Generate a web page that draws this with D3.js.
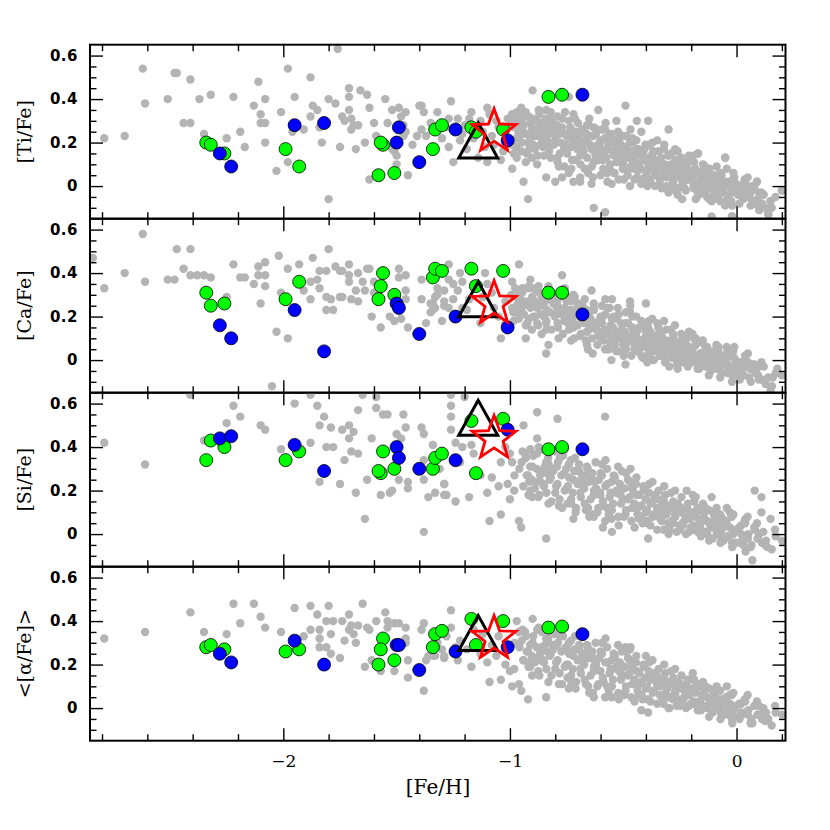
<!DOCTYPE html>
<html><head><meta charset="utf-8">
<script src="https://cdn.jsdelivr.net/npm/d3@7"></script>
<style>body{margin:0;background:#fff}</style>
</head><body><svg id="c" width="830" height="830"></svg>
<script>
const panelLabels = ["[Ti/Fe]","[Ca/Fe]","[Si/Fe]","<[α/Fe]>"];
const xTickValues = [-2,-1,0];
const xMinorTicks = [-2.8,-2.6,-2.4,-2.2,-1.8,-1.6,-1.4,-1.2,-0.8,-0.6,-0.4,-0.2,0.2];
const yTickValues = [0,0.2,0.4,0.6];
const yTickLabels = ["0","0.2","0.4","0.6"];
const yMinorTicks = [-0.1,-0.05,0.05,0.1,0.15,0.25,0.3,0.35,0.45,0.5,0.55];

const greenFeH   = [-2.34,-2.32,-2.26,-1.99,-1.93,-1.56,-1.57,-1.58,-1.51,-1.34,-1.33,-1.30,-1.17,-1.15,-1.03,-0.83,-0.77];
const greenTi    = [0.20,0.19,0.15,0.17,0.09,0.19,0.20,0.05,0.06,0.17,0.26,0.28,0.27,0.25,0.26,0.41,0.42];
const greenCa    = [0.31,0.25,0.26,0.28,0.36,0.40,0.34,0.28,0.30,0.38,0.42,0.41,0.42,0.34,0.41,0.31,0.31];
const greenSi    = [0.34,0.43,0.40,0.34,0.38,0.38,0.28,0.29,0.30,0.30,0.35,0.37,0.52,0.28,0.53,0.39,0.40];
const greenAlpha = [0.28,0.29,0.27,0.26,0.27,0.32,0.27,0.20,0.22,0.28,0.34,0.355,0.41,0.29,0.40,0.37,0.375];

const blueFeH   = [-2.28,-2.23,-1.95,-1.82,-1.50,-1.49,-1.40,-1.24,-1.01,-0.68];
const blueTi    = [0.15,0.09,0.28,0.29,0.20,0.27,0.11,0.26,0.21,0.42];
const blueCa    = [0.16,0.10,0.23,0.04,0.26,0.24,0.12,0.20,0.15,0.21];
const blueSi    = [0.44,0.45,0.41,0.29,0.40,0.35,0.30,0.34,0.48,0.39];
const blueAlpha = [0.25,0.21,0.31,0.20,0.29,0.29,0.175,0.26,0.28,0.34];

const triangleFeH = -1.14;
const triangleY = [0.21,0.28,0.535,0.345];
const starFeH = -1.07;
const starY = [0.25,0.26,0.44,0.32];

// field stars (gray), flat [FeH, X/Fe, FeH, X/Fe, ...]
const grayTi = [
-2.79,.22,-2.70,.23,-2.62,.54,-2.61,.38,-2.51,.40,-2.48,.52,-2.47,.52,-2.44,.29,-2.41,.29,-2.41,.49,-2.37,.40,-2.32,.42,-2.35,.24,-2.25,.22,-2.22,.41,-2.19,.25,-2.17,.18,-2.11,.48,-2.13,.37,-2.10,.33,-2.10,.29,-2.08,.29,-2.08,.40,-2.08,.20,-2.03,.07,-2.01,.34,-1.98,.54,-1.98,.11,-1.95,.41,-1.96,.25,-1.91,.26,-1.88,.50,-1.87,.37,-1.85,.35,-1.88,.32,-1.84,.27,-1.83,.20,-1.80,.40,-1.80,-.06,-1.77,.38,-1.75,.18,-1.76,.63,-1.74,.32,-1.73,.30,-1.71,.45,-1.71,.41,-1.71,.35,-1.70,.26,-1.70,.31,-1.69,.28,-1.68,.17,-1.67,.28,-1.66,.44,-1.63,.42,-1.64,.20,-1.62,.36,-1.62,.03,-1.60,.29,-1.59,.23,-1.55,.40,-1.54,.29,-1.52,.35,-1.51,.16,-1.50,.10,-1.49,.36,-1.48,.32,-1.47,.23,-1.45,.05,-1.43,.19,-1.40,.37,-1.41,.23,-1.52,.17,-1.50,.14,-1.47,.28,-1.46,.25,
-1.46,.34,-1.39,.37,-1.38,.34,-1.39,.26,-1.37,.23,-1.32,.34,-1.26,.39,-1.27,.31,-1.23,.31,-1.25,.11,-1.27,.18,-1.21,.24,-1.17,.34,-1.19,.17,-1.10,.36,-1.10,.11,-1.04,.12,-1.11,.18,-1.06,.30,-0.99,.08,-0.99,.20,-0.97,.34,-0.94,.02,-0.92,-.06,-0.90,.44,-0.82,.34,-0.84,.04,-0.80,.02,-0.77,.04,-0.74,.41,-0.72,.02,-0.69,.02,-0.63,-.10,-0.58,-.12,-0.64,.01,-0.61,.35,-0.49,.37,-0.44,.30,-0.39,.30,-0.30,.26,-0.17,.15,-0.05,.13,-0.12,.08,-0.11,-.14,-0.02,-.14,0.09,.02,0.04,.01,0.15,-.07,0.14,-.13,0.10,-.11,0.20,-.02,-0.02,-.02,0.06,-.03,0.11,-.03,
-1.35,.29,-1.30,.22,-1.28,.27,-1.22,.21,-1.20,.28,-1.16,.22,-1.13,.30,-1.12,.25,-1.08,.23,-1.05,.27,-1.03,.16,-1.14,.13,-1.18,.31,-1.09,.33,-1.01,.31,-1.07,.19,
-0.99,.33,-0.98,.27,-0.97,.22,-0.96,.30,-0.95,.16,-0.94,.25,-0.93,.34,-0.92,.20,-0.91,.29,-0.97,.13,-0.95,.36,-0.93,.11,-0.91,.24,-0.99,.19,-0.96,.27,
-0.90,.31,-0.89,.17,-0.88,.26,-0.87,.33,-0.86,.22,-0.85,.14,-0.84,.28,-0.83,.19,-0.82,.31,-0.81,.24,-0.88,.10,-0.86,.29,-0.84,.35,-0.82,.13,-0.80,.27,-0.89,.23,-0.85,.20,
-0.80,.21,-0.79,.32,-0.78,.15,-0.77,.27,-0.76,.09,-0.75,.23,-0.74,.30,-0.73,.18,-0.72,.25,-0.71,.12,-0.70,.29,-0.78,.24,-0.76,.19,-0.74,.06,-0.72,.33,-0.79,.11,-0.73,.22,
-0.70,.20,-0.69,.14,-0.68,.26,-0.67,.08,-0.66,.22,-0.65,.31,-0.64,.17,-0.63,.11,-0.62,.24,-0.61,.19,-0.60,.05,-0.68,.18,-0.66,.28,-0.64,.23,-0.62,.13,-0.69,.04,-0.63,.27,-0.61,.15,
-0.60,.21,-0.59,.12,-0.58,.26,-0.57,.17,-0.56,.08,-0.55,.22,-0.54,.14,-0.53,.30,-0.52,.03,-0.51,.19,-0.50,.10,-0.58,.16,-0.56,.24,-0.54,.06,-0.52,.16,-0.50,.23,-0.57,.02,-0.53,.11,
-0.49,.15,-0.48,.07,-0.47,.20,-0.46,.12,-0.45,.03,-0.44,.17,-0.43,.09,-0.42,.25,-0.41,.13,-0.40,.05,-0.48,.13,-0.46,.22,-0.44,.10,-0.42,.01,-0.40,.18,-0.47,.00,-0.43,.15,-0.45,.08,
-0.39,.10,-0.38,.02,-0.37,.15,-0.36,.07,-0.35,.21,-0.34,.12,-0.33,-.01,-0.32,.09,-0.31,.04,-0.30,.14,-0.38,.12,-0.36,.00,-0.34,.05,-0.32,.17,-0.30,-.03,-0.37,.07,-0.33,.10,
-0.29,.08,-0.28,.01,-0.27,.12,-0.26,-.04,-0.25,.05,-0.24,.10,-0.23,-.01,-0.22,.03,-0.21,.14,-0.20,.07,-0.28,.05,-0.26,.16,-0.24,-.06,-0.22,.09,-0.27,-.02,-0.23,.04,
-0.19,.00,-0.18,.06,-0.17,.15,-0.16,-.03,-0.15,.03,-0.14,.09,-0.13,-.05,-0.12,.01,-0.11,.05,-0.10,-.02,-0.18,-.06,-0.15,.07,-0.13,.02,-0.11,-.07,
-0.09,.03,-0.08,-.04,-0.07,.06,-0.06,-.01,-0.05,.13,-0.04,-.06,-0.03,.02,-0.02,-.03,-0.01,.04,-0.08,.00,-0.05,-.09,-0.02,-.14,
0.01,-.02,0.03,.01,0.04,-.05,0.06,-.03,0.09,.02,0.10,-.11,0.11,-.03,0.14,-.13,0.15,-.07,0.20,-.02,0.12,-.04,0.07,-.07
];
const grayTiCore = [
-0.996,.29,-0.988,.21,-0.979,.31,-0.971,.18,-0.963,.26,-0.957,.23,-0.952,.33,-0.947,.20,-0.941,.28,-0.933,.24,-0.926,.15,-0.918,.32,-0.911,.22,-0.904,.27,
-0.898,.19,-0.893,.25,-0.884,.30,-0.877,.14,-0.869,.23,-0.861,.28,-0.854,.18,-0.848,.26,-0.842,.31,-0.835,.21,-0.827,.16,-0.819,.25,-0.812,.29,-0.806,.19,
-0.797,.23,-0.791,.13,-0.783,.27,-0.776,.20,-0.768,.31,-0.761,.17,-0.753,.24,-0.748,.15,-0.741,.22,-0.734,.27,-0.726,.12,-0.719,.20,-0.711,.25,-0.703,.17,
-0.697,.22,-0.689,.10,-0.682,.26,-0.675,.16,-0.667,.21,-0.659,.13,-0.652,.28,-0.646,.19,-0.639,.09,-0.632,.23,-0.624,.15,-0.617,.26,-0.609,.12,-0.603,.20,
-0.596,.17,-0.588,.08,-0.581,.22,-0.574,.13,-0.566,.19,-0.558,.10,-0.552,.24,-0.547,.16,-0.539,.06,-0.531,.19,-0.524,.11,-0.517,.22,-0.509,.14,-0.502,.08,
-0.496,.13,-0.488,.18,-0.481,.05,-0.473,.15,-0.466,.09,-0.458,.20,-0.451,.11,-0.446,.14,-0.439,.04,-0.431,.17,-0.423,.08,-0.416,.12,-0.408,.02,-0.402,.19,
-0.397,.07,-0.389,.13,-0.382,.03,-0.374,.10,-0.367,.16,-0.359,.05,-0.352,.11,-0.347,.09,-0.339,.01,-0.332,.13,-0.324,.06,-0.316,.10,-0.309,.00,-0.301,.14,
-0.296,.05,-0.288,.10,-0.281,.02,-0.273,.07,-0.266,.12,-0.258,-.01,-0.251,.04,-0.247,.08,-0.239,.02,-0.232,.06,-0.224,-.02,-0.217,.11,-0.209,.03,-0.202,.07,
-0.197,.04,-0.189,-.01,-0.182,.08,-0.174,.02,-0.166,-.04,-0.159,.05,-0.151,.00,-0.146,.03,-0.138,-.03,-0.131,.06,-0.123,.00,-0.116,.04,-0.108,-.05,-0.101,.01,
-0.097,-.02,-0.089,.03,-0.082,-.06,-0.074,.01,-0.066,.05,-0.059,-.03,-0.051,.00,-0.046,.02,-0.038,-.04,-0.031,.00,-0.023,-.07,-0.016,.03,-0.008,-.02,-0.002,.01,
0.006,-.04,0.018,.00,0.029,-.06,0.041,-.02,0.057,-.05,0.068,.00,0.083,-.08,0.097,-.03
];
const grayTiFill = [
-0.962,.24,-0.915,.17,-0.873,.35,-0.836,.24,-0.792,.28,-0.744,.18,-0.713,.31,-0.686,.20,-0.655,.06,-0.627,.18,-0.593,.26,-0.571,.06,-0.542,.21,-0.512,.12,-0.487,.23,-0.462,.16,-0.436,.07,-0.411,.16,-0.386,.19,-0.362,.12,-0.338,.03,-0.313,.08,-0.289,.15,-0.262,.09,-0.236,.00,-0.212,.05,-0.187,.11,-0.162,.00,-0.137,.07,-0.113,-.01,-0.088,.09,-0.064,.02,-0.039,-.05,-0.014,.06,0.013,-.08,0.036,.03,0.062,-.09,0.093,-.06,0.127,-.10,0.172,-.05,
-0.983,.15,-0.944,.31,-0.902,.13,-0.866,.19,-0.829,.27,-0.784,.09,-0.757,.34,-0.729,.08,-0.694,.24,-0.661,.24,-0.634,.04,-0.602,.13,-0.578,.29,-0.551,.01,-0.523,.25,-0.497,.03,-0.468,.26,-0.442,.21,-0.419,.03,-0.393,.00,-0.371,.20,-0.344,.16,-0.319,.19,-0.296,-.02,-0.271,.17,-0.243,.13,-0.219,.08,-0.193,.14,-0.171,-.03,-0.148,.10,-0.121,-.06,-0.096,.05,-0.071,-.07,-0.043,.08,-0.019,-.09,0.021,-.04,0.049,.04,0.078,-.01,0.112,-.08,0.155,-.10
];

const grayCa = [
-2.84,.47,-2.79,.33,-2.70,.40,-2.62,.58,-2.61,.36,-2.51,.37,-2.48,.37,-2.47,.51,-2.41,.51,-2.44,.42,-2.41,.39,-2.38,.39,-2.35,.39,-2.32,.38,-2.25,.29,-2.22,.44,-2.19,.38,-2.17,.38,-2.13,.35,-2.11,.43,-2.11,.39,-2.08,.45,-2.08,.39,-2.08,.34,-2.10,.26,-2.02,.48,-2.01,.31,-2.03,.13,-1.98,.10,-2.05,-.12,-1.98,.42,-1.93,.44,-1.91,.32,-1.88,.36,-1.87,.47,-1.85,.37,-1.84,.33,-1.84,.41,-1.80,.51,-1.81,.41,-1.79,.28,-1.81,.29,-1.81,.23,-1.78,.23,-1.88,.28,-1.77,.43,-1.75,.41,-1.74,.41,-1.75,.29,-1.74,.29,-1.71,.44,-1.71,.39,-1.71,.36,-1.70,.28,-1.67,.27,-1.67,.40,-1.65,.36,-1.68,.32,-1.63,.42,-1.62,.42,-1.64,.32,-1.61,.20,-1.57,.15,-1.60,.36,-1.60,.31,-1.53,.20,-1.51,.18,-1.49,.42,-1.49,.38,-1.48,.19,-1.46,.39,-1.46,.32,-1.46,.28,-1.45,.15,-1.39,.28,-1.39,.37,-1.37,.17,-1.34,.23,-1.33,.29,-1.32,.33,-1.34,.26,-1.29,.25,
-1.27,.44,-1.22,.40,-1.27,.37,-1.25,.35,-1.23,.32,-1.21,.36,-1.29,.27,-1.27,.24,-1.32,.30,-1.33,.24,-1.35,.22,-1.21,.24,-1.18,.28,-1.11,.40,-1.10,.35,-1.08,.31,-1.07,.24,-1.13,.17,-1.04,.10,-1.02,.17,-0.99,.36,-0.96,.44,-0.97,.29,-0.99,.24,-0.95,.21,-0.93,.10,-0.91,.37,-0.90,.33,-0.91,.27,-0.88,.24,-0.88,.17,-0.86,.26,-0.85,.20,-0.84,.14,-0.83,.07,-0.84,.03,-0.81,.27,-0.79,.23,-0.79,.17,-0.77,.39,-0.75,.29,-0.74,.20,-0.72,.15,-0.70,.26,-0.69,.22,-0.69,.11,-0.66,.07,-0.65,.17,-0.64,.32,-0.63,.24,-0.62,.14,-0.60,.10,-0.59,.20,-0.58,.05,-0.56,.24,-0.55,.28,-0.55,.15,-0.54,.10,-0.53,.04,-0.51,.17,-0.50,.13,-0.49,.07,-0.49,-.02,-0.47,.22,-0.47,.27,-0.46,.15,-0.44,.10,-0.43,.04,-0.41,.17,-0.40,.13,-0.40,.26,-0.39,.07,-0.38,.00,-0.36,.11,-0.35,.17,-0.34,.07,-0.32,.04,-0.31,.14,-0.29,.09,-0.28,.02,-0.27,.07,-0.26,-.04,-0.24,.11,-0.23,.04,-0.21,.13,-0.21,.00,-0.18,.07,-0.18,.10,-0.16,.03,-0.14,-.02,-0.13,.06,-0.11,.02,-0.09,.05,-0.08,-.04,-0.06,.00,-0.04,.04,-0.02,-.07,-0.01,.06,0.01,-.02,0.04,.00,0.06,-.04,0.10,-.03,0.11,-.01,0.14,-.08,0.15,-.14,0.20,-.07,0.18,-.04,
-0.96,.30,-0.94,.25,-0.92,.33,-0.90,.28,-0.89,.20,-0.87,.31,-0.85,.26,-0.84,.17,-0.83,.34,-0.81,.29,-0.80,.21,-0.79,.25,-0.77,.32,-0.76,.18,-0.75,.27,-0.73,.23,-0.72,.30,-0.71,.16,-0.70,.25,-0.68,.19,-0.67,.28,-0.66,.13,-0.65,.22,-0.63,.26,-0.62,.17,-0.61,.11,-0.60,.20,-0.58,.14,-0.57,.24,-0.56,.08,-0.55,.19,-0.53,.13,-0.52,.21,-0.50,.07,-0.49,.17,-0.48,.11,-0.46,.20,-0.45,.05,-0.44,.13,-0.42,.18,-0.41,.08,-0.39,.15,-0.38,.03,-0.37,.10,-0.35,.06,-0.34,.13,-0.32,.02,-0.31,.09,-0.29,.05,-0.28,.12,-0.26,-.01,-0.25,.08,-0.23,.03,-0.22,.10,-0.20,.00,-0.19,.06,-0.17,.02,-0.15,.08,-0.14,-.02,-0.12,.04,-0.10,.00,-0.08,.06,-0.07,-.03,-0.05,.02,-0.03,-.04,-0.01,.01,0.02,-.06,0.05,-.01,0.08,-.05,0.12,-.03,0.16,-.08,-0.98,.22,-0.93,.16,-0.86,.12,-1.02,.27,-1.05,.20,-1.12,.29,-1.16,.35,-1.19,.23,-1.25,.28,-1.29,.32,-1.30,.18,-1.35,.26
];
const grayCaCore = [
-0.994,.30,-0.985,.22,-0.977,.33,-0.969,.25,-0.961,.19,-0.955,.28,-0.951,.23,-0.946,.31,-0.938,.21,-0.931,.27,-0.923,.17,-0.916,.34,-0.909,.24,-0.902,.29,
-0.897,.20,-0.890,.27,-0.882,.32,-0.875,.16,-0.867,.25,-0.859,.29,-0.853,.21,-0.846,.27,-0.839,.18,-0.831,.31,-0.824,.22,-0.817,.14,-0.809,.26,-0.802,.20,
-0.796,.25,-0.788,.15,-0.781,.29,-0.773,.21,-0.766,.12,-0.758,.24,-0.752,.18,-0.746,.23,-0.739,.14,-0.731,.27,-0.723,.19,-0.716,.10,-0.708,.22,-0.701,.16,
-0.695,.21,-0.687,.12,-0.680,.25,-0.672,.17,-0.665,.09,-0.657,.20,-0.651,.14,-0.644,.19,-0.637,.10,-0.629,.23,-0.622,.15,-0.614,.07,-0.607,.18,-0.601,.13,
-0.594,.17,-0.587,.09,-0.579,.21,-0.571,.12,-0.564,.05,-0.556,.16,-0.551,.11,-0.545,.15,-0.537,.07,-0.530,.19,-0.522,.10,-0.515,.04,-0.507,.14,-0.501,.09,
-0.494,.13,-0.487,.05,-0.479,.17,-0.472,.09,-0.464,.02,-0.457,.12,-0.451,.07,-0.444,.12,-0.437,.04,-0.429,.15,-0.421,.07,-0.414,.01,-0.406,.10,-0.401,.06,
-0.395,.10,-0.387,.03,-0.380,.13,-0.372,.06,-0.365,.00,-0.357,.09,-0.351,.04,-0.345,.08,-0.337,.02,-0.330,.11,-0.322,.05,-0.315,-.01,-0.307,.07,-0.301,.03,
-0.294,.07,-0.286,.01,-0.279,.10,-0.271,.04,-0.264,-.02,-0.256,.06,-0.251,.02,-0.245,.05,-0.238,.00,-0.230,.08,-0.223,.03,-0.215,-.03,-0.208,.05,-0.201,.01,
-0.195,.04,-0.187,-.01,-0.180,.07,-0.172,.02,-0.165,-.04,-0.157,.03,-0.151,.00,-0.144,.02,-0.136,-.03,-0.129,.05,-0.121,.00,-0.114,-.05,-0.106,.02,-0.101,-.01,
-0.095,.01,-0.087,-.04,-0.080,.04,-0.072,-.01,-0.065,-.06,-0.057,.01,-0.051,-.02,-0.044,-.01,-0.036,-.05,-0.029,.02,-0.021,-.03,-0.014,-.07,-0.006,.00,-0.001,-.03,
0.008,-.05,0.019,-.01,0.031,-.07,0.044,-.03,0.056,-.08,0.071,-.02,0.086,-.06,0.099,-.09
];
const grayCaFill = [
-0.963,.26,-0.917,.19,-0.874,.34,-0.837,.23,-0.793,.27,-0.745,.17,-0.714,.29,-0.687,.19,-0.656,.05,-0.628,.17,-0.594,.25,-0.572,.05,-0.543,.20,-0.513,.11,-0.488,.22,-0.463,.15,-0.437,.06,-0.412,.15,-0.387,.18,-0.363,.11,-0.339,.02,-0.314,.07,-0.290,.14,-0.263,.08,-0.237,-.01,-0.213,.04,-0.188,.10,-0.163,-.01,-0.138,.06,-0.114,-.02,-0.089,.07,-0.065,.01,-0.040,-.06,-0.015,.04,0.014,-.09,0.037,.02,0.063,-.10,0.094,-.07,0.128,-.11,0.173,-.06,
-0.984,.18,-0.945,.33,-0.903,.14,-0.867,.21,-0.830,.28,-0.785,.10,-0.758,.33,-0.730,.09,-0.695,.25,-0.662,.23,-0.635,.03,-0.603,.12,-0.579,.28,-0.552,.00,-0.524,.24,-0.498,.02,-0.469,.25,-0.443,.20,-0.420,.02,-0.394,-.01,-0.372,.19,-0.345,.15,-0.320,.18,-0.297,-.03,-0.272,.16,-0.244,.12,-0.220,.07,-0.194,.12,-0.172,-.04,-0.149,.09,-0.122,-.07,-0.097,.04,-0.072,-.08,-0.044,.06,-0.020,-.10,0.022,-.05,0.050,.03,0.079,-.02,0.113,-.09,0.156,-.12
];

const graySi = [
-2.79,.42,-2.61,.32,-2.41,.64,-2.35,.43,-2.25,.51,-2.22,.59,-2.19,.54,-2.10,.50,-2.08,.48,-2.01,.39,-1.95,.60,-1.88,.64,-1.88,.42,-1.85,.59,-1.84,.24,-1.84,.50,-1.82,.54,-1.81,.40,-1.79,.49,-1.78,.40,-1.75,.23,-1.74,.48,-1.73,.34,-1.71,.50,-1.71,.44,-1.70,.38,-1.69,.47,-1.68,.19,-1.67,.37,-1.67,.57,-1.65,.64,-1.64,.07,-1.63,.25,-1.61,.44,-1.59,.63,-1.59,.58,-1.57,.18,-1.56,.55,-1.54,.55,-1.53,.19,-1.52,.20,-1.50,.46,-1.49,.25,-1.48,.44,-1.47,.55,-1.46,.49,-1.45,.24,-1.45,.21,-1.39,.49,-1.38,.46,-1.38,.01,-1.38,.25,-1.36,.17,-1.34,.41,-1.33,.19,-1.29,.23,-1.29,.18,-1.38,.34,
-1.26,.64,-1.20,.63,-1.26,.59,-1.26,.54,-1.26,.48,-1.24,.42,-1.34,.41,-1.29,.23,-1.28,.18,-1.24,.15,-1.18,.17,-1.10,.19,-1.09,.06,-1.04,.09,-1.17,.41,-1.16,.37,-1.21,.40,-1.08,.26,-1.04,.33,-1.00,.37,-0.99,.33,-0.98,.27,-0.96,.06,-0.94,.50,-0.88,.56,-0.88,.44,-0.91,.39,-1.00,.16,-1.01,.23,-1.33,.34,-1.31,.30,-1.22,.33,-1.13,.27,-1.05,.22,-1.02,.40,
-0.58,.54,-0.79,.53,-0.84,-.02,-0.95,.03,-0.72,.07,-0.63,.08,-0.59,.03,-0.55,.01,-0.39,-.02,-0.22,.20,-0.18,.17,-0.11,.17,0.08,.20,0.11,.17,0.11,.10,0.15,.07,0.10,.00,0.20,-.03,0.04,-.08,0.07,-.12,-0.02,-.04,0.04,.07,-0.06,.07,
-0.93,.35,-0.92,.27,-0.91,.20,-0.90,.31,-0.89,.24,-0.88,.37,-0.87,.18,-0.86,.29,-0.85,.22,-0.84,.33,-0.83,.14,-0.82,.26,-0.81,.30,-0.80,.19,-0.79,.23,-0.78,.35,-0.77,.12,-0.76,.28,-0.75,.21,-0.74,.32,-0.73,.16,-0.72,.25,-0.71,.10,-0.70,.29,-0.69,.19,-0.68,.23,-0.67,.14,-0.66,.31,-0.65,.08,-0.64,.26,-0.63,.18,-0.62,.21,-0.61,.12,-0.60,.28,-0.59,.15,-0.58,.06,-0.57,.23,-0.56,.17,-0.55,.11,-0.54,.25,-0.53,.19,-0.52,.04,-0.51,.14,-0.50,.21,-0.49,.09,-0.48,.16,-0.47,.24,-0.46,.12,-0.45,.03,-0.44,.18,-0.43,.07,-0.42,.13,-0.41,.20,-0.40,.10,
-0.39,.05,-0.38,.14,-0.37,.08,-0.36,.18,-0.35,.02,-0.34,.11,-0.33,.06,-0.32,.15,-0.31,.09,-0.30,.00,-0.29,.12,-0.28,.05,-0.27,.08,-0.26,.14,-0.25,.02,-0.24,.10,-0.23,.06,-0.21,.01,-0.20,.09,-0.19,.04,-0.17,.11,-0.16,.03,-0.15,.07,-0.13,.00,-0.12,.05,-0.10,.09,-0.09,.02,-0.07,-.01,-0.05,.04,-0.03,.10,-0.01,.01,
0.02,.04,0.05,-.02,0.09,.05,0.13,-.03,0.17,.02,0.03,-.05
];
const graySiCore = [
-0.948,.33,-0.941,.22,-0.933,.37,-0.926,.27,-0.918,.18,-0.911,.31,-0.904,.25,-0.897,.36,-0.890,.21,-0.882,.30,-0.875,.17,-0.867,.27,-0.859,.39,-0.853,.23,
-0.846,.31,-0.839,.19,-0.831,.35,-0.824,.25,-0.817,.15,-0.809,.29,-0.802,.38,-0.796,.22,-0.788,.33,-0.781,.16,-0.773,.27,-0.766,.36,-0.758,.20,-0.752,.30,
-0.746,.14,-0.739,.26,-0.731,.34,-0.723,.19,-0.716,.29,-0.708,.12,-0.701,.23,-0.695,.32,-0.687,.17,-0.680,.27,-0.672,.21,-0.665,.11,-0.657,.30,-0.651,.24,
-0.644,.16,-0.637,.28,-0.629,.20,-0.622,.33,-0.614,.10,-0.607,.25,-0.601,.18,-0.594,.27,-0.587,.13,-0.579,.22,-0.571,.30,-0.564,.09,-0.556,.19,-0.551,.24,
-0.545,.14,-0.537,.26,-0.530,.20,-0.522,.08,-0.515,.23,-0.507,.29,-0.501,.16,-0.494,.21,-0.487,.11,-0.479,.25,-0.472,.17,-0.464,.06,-0.457,.20,-0.451,.14,
-0.444,.23,-0.437,.09,-0.429,.18,-0.421,.13,-0.414,.05,-0.406,.21,-0.401,.16,-0.395,.11,-0.387,.19,-0.380,.04,-0.372,.15,-0.365,.09,-0.357,.17,-0.351,.12,
-0.345,.16,-0.337,.07,-0.330,.13,-0.322,.02,-0.315,.18,-0.307,.10,-0.301,.05,-0.294,.13,-0.286,.06,-0.279,.15,-0.271,.09,-0.264,.01,-0.256,.11,-0.251,.04,
-0.245,.12,-0.238,.05,-0.230,.09,-0.223,.00,-0.215,.14,-0.208,.07,-0.201,.03,-0.195,.10,-0.187,.02,-0.180,.08,-0.172,.12,-0.165,.04,-0.157,-.01,-0.151,.06,
-0.144,.09,-0.136,.01,-0.129,.06,-0.121,.11,-0.114,.03,-0.106,-.02,-0.101,.05,-0.095,.07,-0.087,.00,-0.080,.05,-0.072,.09,-0.065,.02,-0.057,-.03,-0.051,.04,
-0.044,.06,-0.036,-.01,-0.029,.03,-0.021,.08,-0.014,.00,-0.006,-.04,-0.001,.02,0.012,.03,0.024,-.03,0.038,.05,0.052,.00,0.066,-.05,0.081,.02,0.095,-.02,0.118,.01,0.136,-.06
];
const graySiFill = [
-0.958,.30,-0.915,.24,-0.873,.40,-0.836,.28,-0.792,.31,-0.744,.22,-0.713,.35,-0.686,.25,-0.655,.12,-0.627,.24,-0.593,.32,-0.571,.12,-0.542,.27,-0.512,.18,-0.487,.28,-0.462,.21,-0.436,.12,-0.411,.22,-0.386,.23,-0.362,.16,-0.338,.08,-0.313,.13,-0.289,.19,-0.262,.13,-0.236,.04,-0.212,.10,-0.187,.15,-0.162,.05,-0.137,.12,-0.113,.04,-0.088,.12,-0.064,.06,-0.039,-.01,-0.014,.09,0.013,-.04,0.036,.06,0.062,-.06,0.093,-.02,0.127,-.05,0.172,-.01,
-0.981,.20,-0.944,.38,-0.902,.17,-0.866,.24,-0.829,.32,-0.784,.13,-0.757,.39,-0.729,.14,-0.694,.29,-0.661,.27,-0.634,.09,-0.602,.19,-0.578,.34,-0.551,.07,-0.523,.31,-0.497,.08,-0.468,.30,-0.442,.26,-0.419,.08,-0.393,.06,-0.371,.24,-0.344,.20,-0.319,.22,-0.296,.02,-0.271,.20,-0.243,.17,-0.219,.12,-0.193,.18,-0.171,.01,-0.148,.14,-0.121,-.03,-0.096,.10,-0.071,-.04,-0.043,.12,-0.019,-.06,0.021,.00,0.049,.08,0.078,.03,0.112,-.04,0.155,-.07
];

const grayAlpha = [
-2.79,.32,-2.61,.35,-2.41,.44,-2.35,.35,-2.25,.34,-2.22,.48,-2.19,.39,-2.13,.48,-2.10,.42,-2.08,.37,-2.01,.35,-1.95,.46,-1.91,.33,-1.88,.47,-1.88,.36,-1.85,.43,-1.84,.28,-1.84,.36,-1.84,.32,-1.81,.40,-1.81,.28,-1.80,.47,-1.79,.25,-1.79,.34,-1.78,.40,-1.75,.23,-1.74,.40,-1.73,.31,-1.71,.43,-1.71,.36,-1.70,.38,-1.69,.34,-1.68,.30,-1.67,.38,-1.65,.48,-1.64,.19,-1.63,.37,-1.62,.36,-1.61,.22,-1.59,.40,-1.57,.17,-1.55,.44,-1.54,.40,-1.54,.37,-1.51,.39,-1.51,.17,-1.49,.39,-1.46,.37,-1.46,.32,-1.46,.30,-1.45,.22,-1.45,.14,-1.39,.36,-1.38,.39,-1.38,.08,-1.37,.22,-1.36,.24,-1.33,.24,-1.29,.23,
-1.26,.45,-1.34,.24,-1.29,.24,-1.23,.22,-1.26,.37,-1.17,.19,-1.09,.12,-1.04,.13,-1.10,.21,-1.02,.20,-0.99,.10,-1.00,.17,-0.97,.40,-0.96,.35,-0.98,.30,-0.95,.08,-0.92,.04,-0.96,.11,-0.94,.22,-0.90,.41,-0.84,.05,-0.74,.09,-0.63,.05,-0.49,.28,-0.47,.27,-0.40,.24,-0.21,.13,-0.18,.10,0.07,-.07,0.14,-.05,0.20,-.03,0.10,.01,0.10,-.03,0.04,-.02,-0.02,-.05,-0.06,.04,-0.39,-.02,-0.42,-.01,
-1.32,.30,-1.28,.33,-1.22,.31,-1.19,.27,-1.13,.25,-1.08,.29,-1.05,.33,-1.12,.34,-1.24,.28,-1.30,.27,-1.16,.36,-1.06,.24,
-0.93,.33,-0.92,.26,-0.91,.19,-0.90,.30,-0.89,.23,-0.88,.36,-0.87,.15,-0.86,.28,-0.85,.21,-0.84,.32,-0.83,.12,-0.82,.25,-0.81,.29,-0.80,.18,-0.79,.22,-0.78,.33,-0.77,.11,-0.76,.27,-0.75,.20,-0.74,.30,-0.73,.15,-0.72,.24,-0.71,.09,-0.70,.27,-0.69,.18,-0.68,.22,-0.67,.13,-0.66,.29,-0.65,.07,-0.64,.24,-0.63,.17,-0.62,.20,-0.61,.11,-0.60,.26,-0.59,.14,-0.58,.05,-0.57,.21,-0.56,.16,-0.55,.10,-0.54,.23,-0.53,.18,-0.52,.04,-0.51,.13,-0.50,.19,-0.49,.08,-0.48,.15,-0.47,.22,-0.46,.11,-0.45,.03,-0.44,.17,-0.43,.06,-0.42,.12,-0.41,.19,-0.40,.09,
-0.39,.04,-0.38,.13,-0.37,.07,-0.36,.16,-0.35,.02,-0.34,.10,-0.33,.05,-0.32,.14,-0.31,.08,-0.30,.00,-0.29,.11,-0.28,.04,-0.27,.07,-0.26,.12,-0.25,.01,-0.24,.09,-0.23,.05,-0.21,.01,-0.20,.08,-0.19,.03,-0.17,.10,-0.16,.02,-0.15,.06,-0.13,.00,-0.12,.04,-0.10,.07,-0.09,.01,-0.07,-.02,-0.05,.03,-0.03,.06,-0.01,.00,0.02,.02,0.05,-.03,0.09,.03,0.13,-.02,0.17,.01
];
const grayAlphaCore = [
-0.948,.31,-0.941,.22,-0.933,.35,-0.926,.26,-0.918,.19,-0.911,.29,-0.904,.24,-0.897,.33,-0.890,.21,-0.882,.28,-0.875,.17,-0.867,.25,-0.859,.35,-0.853,.22,
-0.846,.29,-0.839,.18,-0.831,.32,-0.824,.24,-0.817,.15,-0.809,.27,-0.802,.34,-0.796,.21,-0.788,.30,-0.781,.16,-0.773,.26,-0.766,.33,-0.758,.19,-0.752,.28,
-0.746,.14,-0.739,.25,-0.731,.31,-0.723,.18,-0.716,.27,-0.708,.12,-0.701,.22,-0.695,.29,-0.687,.16,-0.680,.25,-0.672,.20,-0.665,.11,-0.657,.28,-0.651,.23,
-0.644,.15,-0.637,.26,-0.629,.19,-0.622,.30,-0.614,.10,-0.607,.23,-0.601,.17,-0.594,.25,-0.587,.12,-0.579,.21,-0.571,.28,-0.564,.08,-0.556,.18,-0.551,.22,
-0.545,.13,-0.537,.24,-0.530,.19,-0.522,.07,-0.515,.21,-0.507,.26,-0.501,.15,-0.494,.19,-0.487,.10,-0.479,.23,-0.472,.16,-0.464,.05,-0.457,.18,-0.451,.13,
-0.444,.21,-0.437,.08,-0.429,.16,-0.421,.12,-0.414,.04,-0.406,.19,-0.401,.14,-0.395,.10,-0.387,.17,-0.380,.03,-0.372,.14,-0.365,.08,-0.357,.16,-0.351,.11,
-0.345,.14,-0.337,.06,-0.330,.12,-0.322,.02,-0.315,.16,-0.307,.09,-0.301,.05,-0.294,.12,-0.286,.05,-0.279,.14,-0.271,.08,-0.264,.01,-0.256,.10,-0.251,.04,
-0.245,.11,-0.238,.04,-0.230,.08,-0.223,.00,-0.215,.13,-0.208,.06,-0.201,.02,-0.195,.09,-0.187,.02,-0.180,.07,-0.172,.11,-0.165,.03,-0.157,-.01,-0.151,.05,
-0.144,.08,-0.136,.01,-0.129,.05,-0.121,.09,-0.114,.02,-0.106,-.02,-0.101,.04,-0.095,.06,-0.087,.00,-0.080,.04,-0.072,.08,-0.065,.01,-0.057,-.03,-0.051,.03,
-0.044,.05,-0.036,-.01,-0.029,.02,-0.021,.06,-0.014,-.01,-0.006,-.04,-0.001,.01,0.012,.02,0.024,-.03,0.038,.03,0.052,-.01,0.066,-.05,0.081,.01,0.095,-.03,0.118,.00,0.136,-.05
];
const grayAlphaFill = [
-0.958,.28,-0.915,.21,-0.873,.37,-0.836,.26,-0.792,.29,-0.744,.20,-0.713,.33,-0.686,.23,-0.655,.10,-0.627,.22,-0.593,.30,-0.571,.10,-0.542,.25,-0.512,.16,-0.487,.26,-0.462,.19,-0.436,.10,-0.411,.20,-0.386,.21,-0.362,.14,-0.338,.06,-0.313,.11,-0.289,.17,-0.262,.11,-0.236,.02,-0.212,.08,-0.187,.13,-0.162,.03,-0.137,.10,-0.113,.02,-0.088,.10,-0.064,.04,-0.039,-.03,-0.014,.07,0.013,-.05,0.036,.04,0.062,-.07,0.093,-.03,0.127,-.06,0.172,-.02,
-0.981,.18,-0.944,.36,-0.902,.15,-0.866,.22,-0.829,.30,-0.784,.11,-0.757,.37,-0.729,.12,-0.694,.27,-0.661,.25,-0.634,.07,-0.602,.17,-0.578,.32,-0.551,.05,-0.523,.29,-0.497,.06,-0.468,.28,-0.442,.24,-0.419,.06,-0.393,.04,-0.371,.22,-0.344,.18,-0.319,.20,-0.296,.00,-0.271,.18,-0.243,.15,-0.219,.10,-0.193,.16,-0.171,-.01,-0.148,.12,-0.121,-.04,-0.096,.08,-0.071,-.05,-0.043,.10,-0.019,-.07,0.021,-.02,0.049,.06,0.078,.01,0.112,-.05,0.155,-.08
];

const panels = [
  {label: panelLabels[0], gray: grayTi.concat(grayTiCore, grayTiFill), green: greenTi, blue: blueTi},
  {label: panelLabels[1], gray: grayCa.concat(grayCaCore, grayCaFill), green: greenCa, blue: blueCa},
  {label: panelLabels[2], gray: graySi.concat(graySiCore, graySiFill), green: greenSi, blue: blueSi},
  {label: panelLabels[3], gray: grayAlpha.concat(grayAlphaCore, grayAlphaFill), green: greenAlpha, blue: blueAlpha}
];

const X0 = 90, X1 = 785.5, TOP = 44.7, PH = 174;
const svg = d3.select("#c");
const x = d3.scaleLinear().domain([-2.853, 0.216]).range([X0, X1]);

function pairs(flat) { const out = []; for (let i = 0; i < flat.length; i += 2) out.push([flat[i], flat[i+1]]); return out; }

function starPath(cx, cy, R, r) {
  const p = d3.path();
  for (let k = 0; k < 10; k++) {
    const a = -Math.PI/2 + k*Math.PI/5, rr = k % 2 ? r : R;
    const px = cx + rr*Math.cos(a), py = cy + rr*Math.sin(a);
    if (k === 0) p.moveTo(px, py); else p.lineTo(px, py);
  }
  p.closePath();
  return p.toString();
}
function triPath(cx, cy, hw, hh) {
  const p = d3.path();
  p.moveTo(cx, cy - hh); p.lineTo(cx - hw, cy + hh); p.lineTo(cx + hw, cy + hh); p.closePath();
  return p.toString();
}

const tickStyle = g => { g.select(".domain").remove(); g.selectAll(".tick line").attr("stroke","#000").attr("stroke-width",1.4); };

panels.forEach((P, i) => {
  const top = TOP + i*PH, bot = top + PH;
  const y = d3.scaleLinear().domain([-0.15, 0.65]).range([bot, top]);
  const g = svg.append("g");
  const clipId = "clip" + i;
  svg.append("clipPath").attr("id", clipId).append("rect").attr("x", X0).attr("y", top).attr("width", X1 - X0).attr("height", PH);
  const plot = g.append("g").attr("clip-path", `url(#${clipId})`);

  plot.selectAll("circle.gray").data(pairs(P.gray)).join("circle").attr("class","gray")
    .attr("cx", d => x(d[0])).attr("cy", d => y(d[1])).attr("r", 4.2).attr("fill", "#b4b4b4");
  plot.selectAll("circle.green").data(greenFeH.map((f, k) => [f, P.green[k]])).join("circle").attr("class","green")
    .attr("cx", d => x(d[0])).attr("cy", d => y(d[1])).attr("r", 6.5).attr("fill", "#00ff00").attr("stroke","#000").attr("stroke-width",0.8);
  plot.selectAll("circle.blue").data(blueFeH.map((f, k) => [f, P.blue[k]])).join("circle").attr("class","blue")
    .attr("cx", d => x(d[0])).attr("cy", d => y(d[1])).attr("r", 6.5).attr("fill", "#0000ff").attr("stroke","#000").attr("stroke-width",0.8);
  plot.append("path").attr("d", triPath(x(triangleFeH), y(triangleY[i]), 19.5, 17.5))
    .attr("fill","none").attr("stroke","#000").attr("stroke-width",3).attr("stroke-linejoin","miter");
  plot.append("path").attr("d", starPath(x(starFeH), y(starY[i]), 23, 9.5))
    .attr("fill","none").attr("stroke","#ff0000").attr("stroke-width",2.8).attr("stroke-linejoin","miter");

  const la = g.append("g").attr("transform", `translate(${X0},0)`)
    .call(d3.axisLeft(y).tickValues(yTickValues).tickFormat((d, k) => yTickLabels[k]).tickSize(-13).tickPadding(12)).call(tickStyle);
  la.selectAll("text").attr("font-family","DejaVu Sans, sans-serif").attr("font-weight","bold").attr("font-size",15).attr("letter-spacing","0.5px").attr("fill","#000");
  g.append("g").attr("transform", `translate(${X0},0)`).call(d3.axisLeft(y).tickValues(yMinorTicks).tickFormat("").tickSize(-6.5)).call(tickStyle);
  g.append("g").attr("transform", `translate(${X1},0)`).call(d3.axisRight(y).tickValues(yTickValues).tickFormat("").tickSize(-13)).call(tickStyle);
  g.append("g").attr("transform", `translate(${X1},0)`).call(d3.axisRight(y).tickValues(yMinorTicks).tickFormat("").tickSize(-6.5)).call(tickStyle);
  g.append("g").attr("transform", `translate(0,${top})`).call(d3.axisTop(x).tickValues(xTickValues).tickFormat("").tickSize(-12.5)).call(tickStyle);
  g.append("g").attr("transform", `translate(0,${top})`).call(d3.axisTop(x).tickValues(xMinorTicks).tickFormat("").tickSize(-6.5)).call(tickStyle);
  const ba = g.append("g").attr("transform", `translate(0,${bot})`)
    .call(d3.axisBottom(x).tickValues(xTickValues).tickSize(-12.5).tickPadding(14).tickFormat(i === 3 ? d3.format("d") : "")).call(tickStyle);
  ba.selectAll("text").attr("font-family","DejaVu Serif, serif").attr("font-size",17).attr("fill","#000");
  g.append("g").attr("transform", `translate(0,${bot})`).call(d3.axisBottom(x).tickValues(xMinorTicks).tickFormat("").tickSize(-6.5)).call(tickStyle);

  g.append("rect").attr("x", X0).attr("y", top).attr("width", X1 - X0).attr("height", PH)
    .attr("fill","none").attr("stroke","#000").attr("stroke-width",2);

  g.append("text").attr("transform", `translate(31,${(top + bot)/2}) rotate(-90)`)
    .attr("text-anchor","middle").attr("font-family","DejaVu Serif, serif").attr("font-size",19).attr("fill","#000")
    .text(P.label);
});

svg.append("text").attr("x", 438).attr("y", 794)
  .attr("text-anchor","middle").attr("font-family","DejaVu Serif, serif").attr("font-size",20).attr("fill","#000")
  .text("[Fe/H]");
</script></body></html>
